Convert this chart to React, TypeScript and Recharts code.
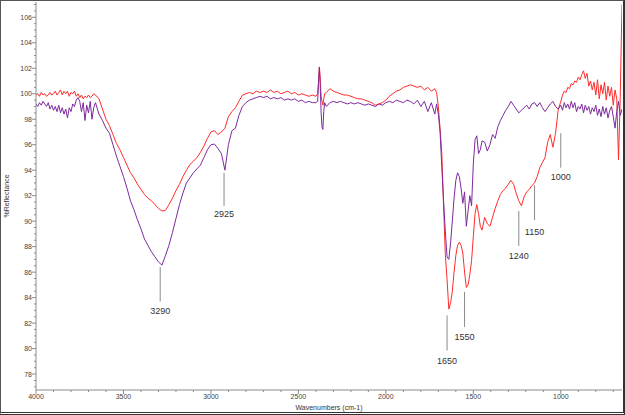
import { LineChart, Line, XAxis, YAxis, ReferenceLine, ReferenceDot } from 'recharts';

// wavenumber grid (cm-1), shared by both spectra
const wavenumbers = [
  4000, 3990, 3980, 3970, 3960, 3950, 3940, 3930, 3920, 3910, 3900, 3890, 3880, 3870, 3860, 3850, 3840, 3830, 3820, 3810,
  3800, 3790, 3780, 3770, 3760, 3750, 3740, 3730, 3720, 3710, 3700, 3690, 3680, 3670, 3660,
  3640, 3620, 3600, 3580, 3560, 3540, 3520, 3500, 3480, 3460, 3440, 3420, 3400, 3380, 3360, 3340, 3320, 3300, 3280, 3260,
  3240, 3220, 3200, 3180, 3160, 3140, 3120, 3100, 3080, 3060, 3040, 3020, 3000, 2980, 2960, 2940, 2920, 2900, 2880, 2860, 2840,
  2820, 2800, 2780, 2760, 2740, 2720, 2700, 2680, 2660, 2640, 2620, 2600, 2580, 2560, 2540, 2520, 2500, 2480, 2460, 2440, 2420,
  2400, 2390, 2385, 2380, 2375, 2370, 2365, 2360, 2355, 2350, 2340,
  2320, 2300, 2280, 2260, 2240, 2220, 2200, 2180, 2160, 2140, 2120, 2100, 2080, 2060, 2040, 2020, 2000, 1980, 1960, 1940,
  1920, 1900, 1880, 1860, 1840, 1820, 1800, 1780, 1760, 1740, 1720,
  1710, 1700, 1690, 1680, 1670, 1660, 1650, 1640, 1630, 1620, 1610, 1600, 1590, 1580, 1570, 1560, 1550, 1540, 1530, 1520,
  1510, 1500, 1490, 1480, 1470, 1460, 1450,
  1435, 1420, 1405, 1390, 1375, 1360, 1345, 1330, 1315, 1300, 1285, 1270, 1255, 1240, 1225, 1210, 1195, 1180, 1165, 1150,
  1135, 1120, 1105, 1090, 1075, 1060, 1045, 1030, 1015,
  1000, 990, 980, 970, 960, 950, 940, 930, 920, 910, 900, 890, 880, 870, 860, 850, 840, 830, 820, 810,
  800, 790, 780, 770, 760, 750, 740, 730, 720, 710, 700, 690, 680, 670, 660, 650,
];

const redReflectance = [
  99.9, 100.0, 99.8, 100.1, 99.9, 100.0, 99.8, 99.9, 100.1, 99.9, 100.0, 100.2, 99.9, 100.1, 100.3, 99.9, 100.2, 100.0, 100.2, 99.8,
  100.1, 100.0, 100.2, 99.8, 100.0, 99.7, 99.9, 99.6, 99.8, 99.7, 99.9, 99.7, 99.8, 100.0, 99.9,
  99.6, 98.8, 98.0, 97.5, 96.8, 96.1, 95.6, 95.0, 94.4, 93.8, 93.4, 92.9, 92.5, 92.1, 91.8, 91.6, 91.3, 91.0, 90.8, 90.85,
  91.3, 91.8, 92.4, 92.9, 93.5, 94.0, 94.45, 94.7, 95.0, 95.4, 95.9, 96.5, 97.0, 97.1, 96.8, 97.0, 97.3, 98.2, 98.6, 98.9, 99.4,
  99.9, 100.0, 100.1, 100.0, 100.2, 100.1, 100.2, 100.1, 100.3, 100.1, 100.2, 100.0, 100.1, 100.2, 100.0, 100.1, 99.9, 100.0, 99.9, 99.8, 99.9,
  99.8, 100.0, 101.0, 102.1, 101.2, 99.8, 99.4, 99.1, 99.6, 100.0, 100.1,
  100.4, 100.2, 100.1, 100.0, 99.9, 99.9, 99.8, 99.7, 99.6, 99.6, 99.5, 99.4, 99.3, 99.1, 99.2, 99.3, 99.5, 99.8, 100.0, 100.2,
  100.3, 100.5, 100.6, 100.7, 100.6, 100.5, 100.6, 100.3, 100.5, 100.2, 100.4,
  100.1, 99.0, 97.3, 95.3, 91.2, 87.4, 85.4, 83.1, 83.6, 84.5, 86.0, 87.3, 88.1, 88.35, 88.1, 87.5, 86.0, 84.8, 85.0, 85.8,
  86.9, 88.8, 90.6, 91.3, 90.6, 89.6, 89.3,
  90.3, 89.8, 89.6, 90.3, 91.0, 91.6, 92.1, 92.4, 92.6, 92.9, 93.2, 92.9, 92.2, 91.6, 91.2, 91.9, 92.3, 92.5, 92.8, 93.0,
  93.5, 94.2, 94.6, 95.0, 96.2, 96.8, 95.8, 96.9, 98.7,
  99.4, 99.9, 100.2, 100.1, 100.5, 100.4, 100.8, 100.7, 101.0, 100.9, 101.3, 101.1, 101.5, 101.8, 101.2, 101.6, 100.6, 101.0, 100.3, 100.9,
  99.9, 101.1, 99.6, 100.7, 100.0, 100.9, 99.5, 100.6, 99.8, 100.5, 99.1, 100.3, 99.6, 94.8, 99.8, 107.0,
];

const purpleReflectance = [
  99.2, 99.0, 99.3, 99.1, 99.4, 99.2, 99.0, 99.3, 98.8, 99.1, 98.7, 99.0, 98.6, 99.1, 98.5, 98.9, 98.4, 98.8, 98.1, 98.9,
  98.6, 99.2, 99.0, 99.5, 99.7, 99.4, 98.6, 99.3, 97.9, 99.1, 98.5, 99.4, 98.0, 98.9, 99.3,
  98.4, 97.9, 97.3, 96.9, 96.0, 95.1, 94.3, 93.5, 92.6, 91.6, 90.9, 90.1, 89.4, 88.6, 88.1, 87.6, 87.2, 86.8, 86.55, 87.3,
  88.1, 89.1, 90.2, 91.3, 92.2, 93.0, 93.4, 93.8, 94.1, 94.4, 95.0, 95.6, 96.0, 96.05, 95.7, 95.3, 94.0, 96.0, 97.1, 97.3, 98.3,
  99.0, 99.3, 99.5, 99.6, 99.7, 99.8, 99.7, 99.8, 99.6, 99.7, 99.6, 99.7, 99.5, 99.6, 99.5, 99.6, 99.4, 99.5, 99.3, 99.4, 99.3,
  99.3, 99.4, 100.8, 102.1, 100.5, 98.5, 97.4, 97.2, 98.6, 99.3, 99.0,
  99.3, 99.4, 99.3, 99.4, 99.3, 99.2, 99.3, 99.2, 99.3, 99.2, 99.1, 99.2, 99.1, 99.0, 99.2, 99.1, 99.3, 99.4, 99.3, 99.5,
  99.4, 99.3, 99.5, 99.4, 99.2, 99.5, 99.0, 99.4, 98.6, 99.3, 98.4,
  99.2, 98.4, 97.0, 94.2, 91.6, 89.2, 87.2, 87.0, 88.3, 90.0, 91.8, 93.2, 93.8, 93.5, 92.6, 91.4, 92.3, 89.6, 90.8, 92.0,
  91.2, 94.5, 96.4, 96.7, 95.3, 95.6, 96.3,
  96.2, 95.5, 96.0, 96.8, 96.5, 97.4, 97.9, 98.3, 98.7, 99.0, 99.4, 99.1, 98.8, 98.5, 98.7, 98.9, 99.1, 98.8, 99.2, 99.3,
  99.0, 99.3, 98.9, 98.6, 98.9, 99.2, 99.4, 99.0, 98.8,
  99.1, 98.7, 99.3, 98.9, 99.2, 98.8, 99.4, 98.9, 99.3, 98.6, 99.0, 98.8, 99.2, 98.5, 99.1, 98.7, 99.0, 98.4, 98.9, 98.6,
  99.1, 98.3, 98.8, 98.2, 99.0, 98.4, 98.9, 98.1, 98.7, 99.0, 98.2, 97.3, 98.6, 99.4, 98.3, 98.8,
];

const xTicks = [
  4000, 3900, 3800, 3700, 3600, 3500, 3400, 3300, 3200, 3100, 3000, 2900, 2800, 2700, 2600, 2500, 2400,
  2300, 2200, 2100, 2000, 1900, 1800, 1700, 1600, 1500, 1400, 1300, 1200, 1100, 1000, 900, 800, 700,
];
const xLabelTicks = [4000, 3500, 3000, 2500, 2000, 1500, 1000];

const yTicks = [
  77, 77.5, 78, 78.5, 79, 79.5, 80, 80.5, 81, 81.5, 82, 82.5, 83, 83.5, 84, 84.5, 85, 85.5, 86, 86.5,
  87, 87.5, 88, 88.5, 89, 89.5, 90, 90.5, 91, 91.5, 92, 92.5, 93, 93.5, 94, 94.5, 95, 95.5, 96, 96.5,
  97, 97.5, 98, 98.5, 99, 99.5, 100, 100.5, 101, 101.5, 102, 102.5, 103, 103.5, 104, 104.5, 105, 105.5, 106, 106.5, 107,
];
const yLabelTicks = [78, 80, 82, 84, 86, 88, 90, 92, 94, 96, 98, 100, 102, 104, 106];

// peak annotations: wavenumber, marker line ends, label height
const peakLabels = ['3290', '2925', '1650', '1550', '1240', '1150', '1000'];
const peakWavenumbers = [3290, 2925, 1650, 1550, 1240, 1150, 1000];
const peakLineTop = [86.4, 93.8, 82.6, 84.45, 90.8, 92.8, 96.9];
const peakLineBottom = [83.7, 91.2, 79.85, 81.7, 88.05, 90.1, 94.2];
const peakLabelY = [83.0, 90.55, 79.06, 80.9, 87.3, 89.2, 93.5];

const data = wavenumbers.map((w, i) => ({ w, red: redReflectance[i], purple: purpleReflectance[i] }));

const AXIS = '#8c8c8c';
const FONT = 'Liberation Sans, Arial, sans-serif';

const XTick = ({ x, y, payload }: any) => {
  const major = xLabelTicks.includes(payload.value);
  return (
    <g>
      <line x1={x} x2={x} y1={y} y2={y + (major ? 4 : 2)} stroke={AXIS} />
      {major && (
        <text x={x} y={y + 9} textAnchor="middle" fontSize={7} fill="#444" fontFamily={FONT}>
          {payload.value}
        </text>
      )}
    </g>
  );
};

const YTick = ({ x, y, payload }: any) => {
  const major = yLabelTicks.includes(payload.value);
  return (
    <g>
      <line x1={x} x2={x - (major ? 4 : 2)} y1={y} y2={y} stroke={AXIS} />
      {major && (
        <text x={x - 4} y={y + 2.5} textAnchor="end" fontSize={7} fill="#444" fontFamily={FONT}>
          {payload.value}
        </text>
      )}
    </g>
  );
};

export default function App() {
  return (
    <div style={{ position: 'absolute', left: 0, top: 0, width: 625, height: 415, background: '#fff' }}>
      <LineChart width={625} height={415} data={data} margin={{ top: 2, right: 3, bottom: 0, left: 0 }}>
        <XAxis
          dataKey="w"
          type="number"
          domain={[650, 4000]}
          reversed
          allowDataOverflow
          ticks={xTicks}
          interval={0}
          tick={<XTick />}
          tickLine={false}
          tickSize={0}
          tickMargin={0}
          height={25}
          stroke={AXIS}
          label={{ value: 'Wavenumbers (cm-1)', position: 'insideBottom', offset: 5, fontSize: 7, fill: '#333', fontFamily: FONT }}
        />
        <YAxis
          type="number"
          domain={[76.75, 107.2]}
          allowDataOverflow
          ticks={yTicks}
          interval={0}
          tick={<YTick />}
          tickLine={false}
          tickSize={0}
          tickMargin={0}
          width={36}
          stroke={AXIS}
          label={{
            value: '%Reflectance',
            angle: -90,
            position: 'insideLeft',
            offset: 7,
            fontSize: 7,
            fill: '#333',
            fontFamily: FONT,
            style: { textAnchor: 'middle' },
          }}
        />
        <Line dataKey="red" type="linear" stroke="#ff2b2b" strokeWidth={1} dot={false} isAnimationActive={false} />
        <Line dataKey="purple" type="linear" stroke="#7e2a9e" strokeWidth={1} dot={false} isAnimationActive={false} />
        {peakWavenumbers.map((w, i) => (
          <ReferenceLine
            key={`pl-${w}`}
            segment={[{ x: w, y: peakLineTop[i] }, { x: w, y: peakLineBottom[i] }]}
            stroke="#8a8a8a"
            strokeWidth={1}
          />
        ))}
        {peakWavenumbers.map((w, i) => (
          <ReferenceDot
            key={`pt-${w}`}
            x={w}
            y={peakLabelY[i]}
            r={1}
            fill="none"
            stroke="none"
            label={{ value: peakLabels[i], position: 'center', fontSize: 9, fill: '#333', fontWeight: 400, fontFamily: FONT }}
          />
        ))}
      </LineChart>
      <div
        style={{
          position: 'absolute',
          inset: 0,
          boxSizing: 'border-box',
          borderTop: '1px solid #555',
          borderLeft: '1px solid #555',
          borderRight: '2px solid #333',
          borderBottom: '3px double #333',
          pointerEvents: 'none',
        }}
      />
    </div>
  );
}
